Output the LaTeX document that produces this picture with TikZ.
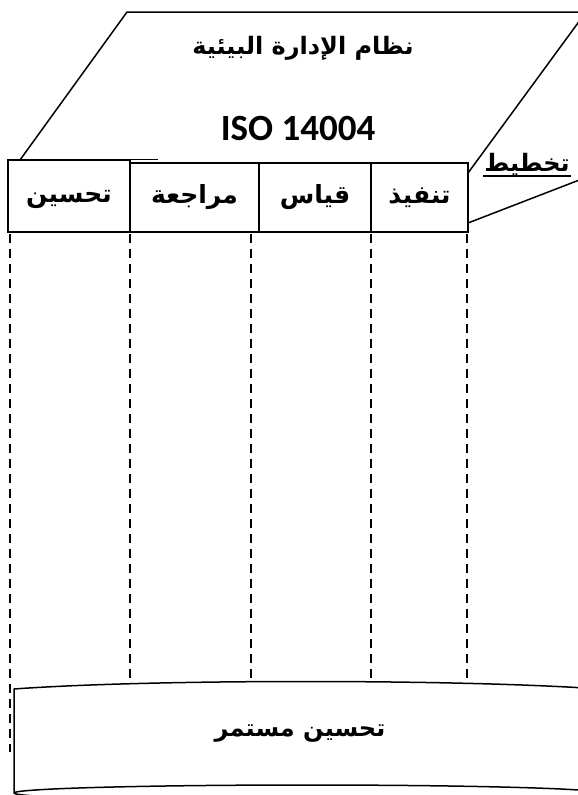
\documentclass[tikz,border=0pt]{standalone}
\usepackage{fontspec}
\setmainfont{Carlito}
\newfontfamily\arabicfont[Script=Arabic]{DejaVu Sans}
\TeXXeTstate=1

\tikzset{
    stagebox/.style={draw, line width=1.5pt, inner sep=0pt, text height=16pt, text depth=4pt, font=\arabicfont\bfseries\fontsize{25}{28}\selectfont},
    guide/.style={line width=1.3pt, dash pattern=on 9pt off 6pt},
    outline/.style={line width=1.5pt}
}

\begin{document}
\begin{tikzpicture}[x=1pt, y=-1pt]
    \useasboundingbox (0,0) rectangle (578,795);
    \clip (0,0) rectangle (578,795);

    % management system frame
    \draw[outline] (20,160) -- (127,12) -- (590,12);
    \draw[outline] (586,12) -- (468,173);
    \draw[outline] (468,223) -- (600,172);
    \node[font=\arabicfont\bfseries\fontsize{24}{28}\selectfont] (title) at (303,48) {\beginR نظام الإدارة البيئية\endR};
    \node[font=\bfseries\fontsize{37}{40}\selectfont] (iso) at (298,128) {ISO 14004};
    \node[font=\arabicfont\bfseries\fontsize{24}{26}\selectfont, inner sep=1pt] (plan) at (527,164) {\beginR تخطيط\endR};
    \draw[line width=1.8pt] (plan.south west) -- (plan.south east);

    % stages
    \node[stagebox, minimum width=122pt, minimum height=72pt] (improve) at (69,196) {\beginR تحسين\endR};
    \node[stagebox, minimum width=129pt, minimum height=69pt] (review) at (194.5,197.5) {\beginR مراجعة\endR};
    \node[stagebox, minimum width=112pt, minimum height=69pt] (measure) at (315,197.5) {\beginR قياس\endR};
    \node[stagebox, minimum width=97pt, minimum height=69pt] (execute) at (419.5,197.5) {\beginR تنفيذ\endR};
    \draw[outline] (improve.north east) -- ++(27,0);

    % guide lines
    \draw[guide] (10,234) -- (10,752);
    \foreach \gx in {130,251,371,467}
        \draw[guide] (\gx,234) -- (\gx,684);

    % continual improvement
    \draw[outline, fill=white] (14,689) .. controls (150,679) and (460,679) .. (600,689) -- (600,793)
        arc[start angle=0, end angle=180, x radius=293, y radius=8] -- cycle;
    \draw[outline] (14,793) arc[start angle=180, end angle=360, x radius=293, y radius=8];
    \node[font=\arabicfont\bfseries\fontsize{24}{26}\selectfont] (cont) at (300,734) {\beginR تحسين مستمر\endR};
\end{tikzpicture}
\end{document}
